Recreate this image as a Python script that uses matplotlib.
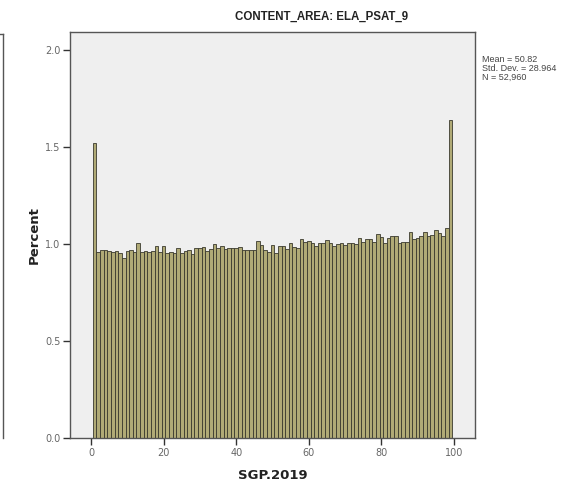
import matplotlib
matplotlib.use("Agg")
import matplotlib.pyplot as plt
from matplotlib.lines import Line2D

# SGP values (bins) and percent per bin
sgp = list(range(1, 100))
percent = [
    1.52, 0.96, 0.97, 0.97, 0.965, 0.96, 0.965, 0.955, 0.93, 0.965,
    0.97, 0.96, 1.007, 0.96, 0.965, 0.96, 0.965, 0.99, 0.96, 0.99,
    0.955, 0.96, 0.955, 0.98, 0.955, 0.965, 0.97, 0.948, 0.978, 0.98,
    0.985, 0.965, 0.975, 1.0, 0.978, 0.99, 0.973, 0.98, 0.982, 0.98,
    0.986, 0.97, 0.968, 0.97, 0.968, 1.017, 0.995, 0.97, 0.96, 0.995,
    0.952, 0.99, 0.99, 0.973, 1.007, 0.986, 0.98, 1.026, 1.012, 1.017,
    1.003, 0.99, 1.007, 1.007, 1.02, 1.003, 0.99, 1.0, 1.007, 0.995,
    1.007, 1.007, 1.0, 1.029, 1.012, 1.024, 1.024, 1.01, 1.052, 1.038,
    1.003, 1.029, 1.041, 1.041, 1.003, 1.012, 1.012, 1.064, 1.024, 1.029,
    1.04, 1.064, 1.041, 1.046, 1.07, 1.057, 1.041, 1.081, 1.64,
]
x_ticks = [0, 20, 40, 60, 80, 100]
y_ticks = [0.0, 0.5, 1.0, 1.5, 2.0]
title = "CONTENT_AREA: ELA_PSAT_9"
stats = "Mean = 50.82\nStd. Dev. = 28.964\nN = 52,960"

W, H = 573, 483
fig = plt.figure(figsize=(W / 100, H / 100), dpi=100)
fig.patch.set_facecolor("white")

ax = fig.add_axes([70 / W, 1 - 438 / H, 405 / W, 406 / H])
ax.set_facecolor("#efefef")
ax.bar(sgp, percent, width=1.0, align="center", color="#b0aa76",
       edgecolor="#3a3a2e", linewidth=0.6)

ax.set_xlim(-5.8, 105.8)
ax.set_ylim(0, 2.093)
ax.set_xticks(x_ticks)
ax.set_xticklabels([str(v) for v in x_ticks])
ax.set_yticks(y_ticks)
ax.set_yticklabels([f"{v:.1f}" for v in y_ticks])
ax.tick_params(axis="both", direction="out", length=5, width=1.0,
               color="#333333", labelsize=7, labelcolor="#666666", pad=2)
for s in ax.spines.values():
    s.set_color("#555555")
    s.set_linewidth(1.0)

ax.set_xlabel("SGP.2019", fontsize=9.5, fontweight="bold", color="#222222", labelpad=8)
ax.set_ylabel("Percent", fontsize=9.5, fontweight="bold", color="#222222", labelpad=3)

fig.text(322 / W, 1 - 17 / H, title, ha="center", va="center",
         fontsize=8.3, fontweight="bold", color="#222222",
         family=["Liberation Sans", "DejaVu Sans"])
fig.text(482 / W, 1 - 55 / H, stats, ha="left", va="top", fontsize=6.5,
         color="#444444", linespacing=1.0,
         family=["Liberation Sans", "DejaVu Sans"])

# partial border of neighbouring panel at left edge
fig.add_artist(Line2D([3 / W, 3 / W], [1 - 34 / H, 1 - 438 / H],
                      transform=fig.transFigure, color="#555555", lw=1.0))
fig.add_artist(Line2D([0, 3 / W], [1 - 34 / H, 1 - 34 / H],
                      transform=fig.transFigure, color="#555555", lw=1.0))

fig.savefig("out.png", dpi=100)
